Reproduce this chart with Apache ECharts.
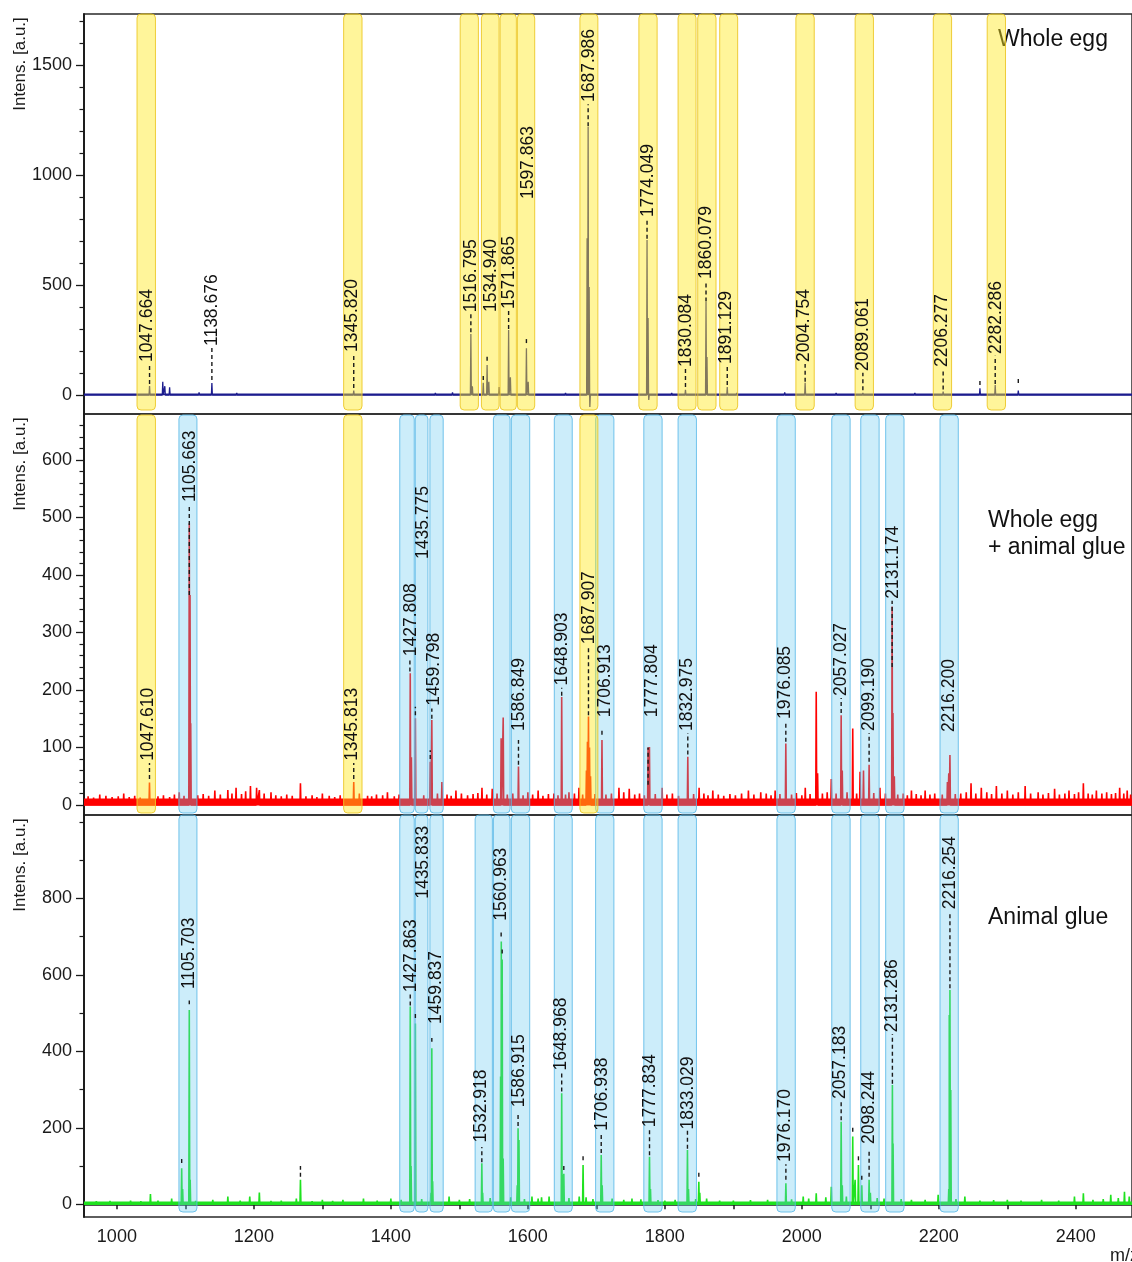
<!DOCTYPE html>
<html><head><meta charset="utf-8">
<script src="https://cdn.jsdelivr.net/npm/echarts@6/dist/echarts.min.js"></script>
<style>html,body{margin:0;padding:0;background:#fff}#c{width:1132px;height:1262px}</style>
</head><body><div id="c"></div><script>
// ---------- axes ----------
const X_MIN = 952, X_MAX = 2482;
const X_TICKS = [1000,1100,1200,1300,1400,1500,1600,1700,1800,1900,2000,2100,2200,2300,2400];
const X_LABELS = [1000,1200,1400,1600,1800,2000,2200,2400];
const Y1_RANGE = [-86.4, 1731.8], Y1_LABELS = [0,500,1000,1500], Y1_MINOR = [100,200,300,400,600,700,800,900,1100,1200,1300,1400,1600,1700];
const Y2_RANGE = [-17.4, 680], Y2_LABELS = [0,100,200,300,400,500,600], Y2_MINOR = [20,40,60,80,120,140,160,180,220,240,260,280,320,340,360,380,420,440,460,480,520,540,560,580,620,640,660];
const Y3_RANGE = [-33.2, 1017.8], Y3_LABELS = [0,200,400,600,800], Y3_MINOR = [100,300,500,700,900,1000];

// ---------- panel 1 : whole egg ----------
const EGG_PEAKS = [[1047.7,41],[1067,60],[1070,40],[1077,35],[1138.7,54],[1345.8,20],[1516.8,277],[1519,40],[1534.9,55],[1540.5,136],[1543,60],[1558,36],
 [1571.9,295],[1574.5,80],[1597.9,213],[1600.5,60],[1686.5,713],[1688,1218],[1689.5,491],[1690.5,-55],[1774.0,705],[1775.5,350],[1776.5,-23],
 [1830.1,23],[1860.1,423],[1861.5,173],[1891.1,36],[2004.8,55],[2089.1,10],[2206.3,15],[2260,30],[2282.3,45],[2316,20]];
const EGG_NOISE = [[1002,8],[1025,7],[1120,12],[1175,10],[1215,8],[1260,7],[1300,6],[1420,8],[1465,10],[1490,12],[1620,8],[1655,10],[1730,8],[1810,10],
 [1905,10],[1935,8],[1975,12],[2030,8],[2050,10],[2120,8],[2165,10],[2240,8],[2340,8],[2395,6],[2440,8]];
const EGG_BANDS = [[1029.4,1056.3],[1331.1,1357.9],[1501.2,1527.8],[1532.2,1558.0],[1559.5,1583.2],[1584.7,1610.0],[1676.0,1702.2],[1762.1,1788.7],
 [1819.3,1845.5],[1848.0,1874.7],[1880.1,1906.3],[1991.3,2018.1],[2077.8,2104.5],[2191.9,2218.6],[2270.6,2297.3]];
const EGG_MARKS = [[1047.7,50,140],[1138.7,68,214],[1345.8,32,187],[1516.8,285,368],[1534.9,68,91],[1540.5,156,182],[1571.9,300,382],[1597.9,236,264],
 [1688,1222,1322],[1774.0,710,800],[1830.1,36,119],[1860.1,425,519],[1891.1,45,132],[2004.8,60,141],[2089.1,22,101],[2206.3,25,119],[2260,45,77],[2282.3,50,178],[2316,55,82]];
const EGG_LABELS = [[1044,'1047.664',145],[1139,'1138.676',218],[1343.8,'1345.820',191],[1517,'1516.795',372],[1546,'1534.940',373],[1572,'1571.865',386],
 [1600.3,'1597.863',886],[1690,'1687.986',1327],[1776,'1774.049',804],[1831,'1830.084',123],[1859.7,'1860.079',523],[1890,'1891.129',136],
 [2003.6,'2004.754',145],[2090,'2089.061',105],[2204.8,'2206.277',123],[2283.7,'2282.286',182]];

// ---------- panel 2 : whole egg + animal glue ----------
const MIX_PEAKS = [[1047.6,39],[1105.7,490],[1106.8,365],[1107.8,142],[1268,38],[1345.8,40],[1428.3,229],[1430,83],[1435.8,151],[1457.5,75],[1459.8,148],
 [1561,116],[1564,152],[1586.3,67],[1649.4,188],[1685.5,60],[1687,110],[1688.5,154],[1690,100],[1691.5,50],[1708.2,113],[1775.5,100],[1777.5,101],
 [1833.5,84],[1976.6,107],[2021,197],[2023,55],[2057.4,156],[2059,60],[2074.3,133],[2085,58],[2090,60],[2098.2,70],[2131.8,345],[2133,160],[2135,50],
 [2212.5,40],[2214.5,55],[2216.2,87]];
const MIX_NOISE = [[975,18],[1010,20],[1091,22],[1143,25],[1162,26],[1174,30],[1195,33],[1204,30],[1208,26],[1225,22],[1300,20],[1354,20],[1379,18],
 [1395,22],[1474.5,40],[1495,25],[1533,30],[1548,28],[1600,22],[1615,25],[1660,22],[1674.6,30],[1733,30],[1748,28],[1796,30],[1850,30],[1870,25],
 [1922,25],[1940,22],[1961,25],[2005,30],[2043,45],[2114,30],[2160,25],[2180,25],[2247,38],[2262,30],[2284,33],[2300,25],[2326,33],[2345,22],
 [2369,28],[2390,25],[2411,38],[2430,25],[2445,22],[2464,30],[2475,25],
 [958,15],[966,13],[984,16],[993,14],[1002,15],[1018,14],[1026,16],[1034,13],[1060,15],[1068,17],[1077,14],[1084,18],[1098,16],[1118,17],[1126,19],
 [1134,16],[1151,18],[1168,20],[1182,19],[1188,24],[1215,20],[1232,17],[1240,15],[1248,18],[1256,16],[1276,15],[1285,17],[1292,14],[1310,16],
 [1318,14],[1326,17],[1366,16],[1372,15],[1388,17],[1405,15],[1412,18],[1448,17],[1468,20],[1482,18],[1488,16],[1503,20],[1512,17],[1520,19],
 [1527,21],[1540,18],[1555,20],[1570,18],[1578,20],[1593,17],[1607,18],[1622,16],[1630,19],[1638,20],[1644,17],[1655,18],[1668,20],[1680,18],
 [1698,19],[1714,18],[1722,20],[1740,22],[1756,18],[1763,20],[1770,17],[1786,19],[1803,18],[1811,20],[1820,16],[1842,19],[1857,20],[1863,17],
 [1878,18],[1886,16],[1895,19],[1903,17],[1912,20],[1930,18],[1948,20],[1955,17],[1968,19],[1985,18],[1992,21],[2000,17],[2012,19],[2030,20],
 [2037,22],[2050,20],[2066,22],[2080,20],[2105,21],[2122,20],[2140,18],[2148,20],[2154,17],[2167,19],[2174,17],[2187,18],[2194,20],[2205,18],
 [2224,19],[2232,20],[2240,22],[2254,20],[2270,22],[2277,19],[2292,20],[2308,18],[2316,22],[2334,20],[2352,18],[2360,21],[2376,18],[2384,20],
 [2398,19],[2404,22],[2418,20],[2424,18],[2438,20],[2452,19],[2458,21],[2470,20],[2480,18]];
const MIX_YELLOW = [[1029.4,1056.3],[1331.1,1357.9],[1676.0,1702.2]];
const MIX_BLUE = [[1090.6,1116.9],[1413.0,1434.1],[1435.6,1454.1],[1457.0,1476.4],[1549.7,1574.0],[1575.9,1602.7],[1638.6,1664.8],[1698.9,1725.6],
 [1769.3,1796.0],[1819.3,1846.1],[1963.6,1990.4],[2043.7,2070.5],[2086.0,2112.8],[2122.4,2149.2],[2201.7,2228.4]];
const MIX_MARKS = [[1047.6,45,73],[1105.7,365,522],[1345.8,45,73],[1427.8,232,255],[1435.8,156,171],[1457.5,80,95],[1459.8,150,168],[1586.3,70,113],
 [1649.4,190,204],[1688.5,156,276],[1708.2,122,131],[1775.5,35,100],[1833.5,88,125],[1976.6,110,146],[2057.4,160,186],[2098.2,75,125],[2131.8,240,355]];
const MIX_LABELS = [[1045,'1047.610',75],[1107,'1105.663',525],[1343.8,'1345.813',75],[1429,'1427.808',257],[1447,'1435.775',426],[1463,'1459.798',171],
 [1587,'1586.849',127],[1650,'1648.903',206],[1689,'1687.907',278],[1713.5,'1706.913',151],[1781,'1777.804',151],[1833,'1832.975',127],
 [1975.8,'1976.085',148],[2057,'2057.027',188],[2098,'2099.190',127],[2133.6,'2131.174',357],[2214.8,'2216.200',125]];

// ---------- panel 3 : animal glue ----------
const GLUE_PEAKS = [[1049,27],[1094.6,94],[1096,40],[1105.7,508],[1107,64],[1162,20],[1194,20],[1208,31],[1262,15],[1268,64],[1300,12],[1400,15],
 [1428.3,517],[1429.5,100],[1435.8,473],[1458.5,30],[1459.8,408],[1461,60],[1532.8,107],[1534,30],[1560.2,334],[1561.2,687],[1562.5,640],[1564,120],
 [1584.5,50],[1585.7,199],[1587,168],[1649.4,290],[1650.5,77],[1652.5,80],[1680.6,103],[1707.1,129],[1708.5,50],[1777.6,124],[1779,40],[1833.0,142],
 [1834.5,40],[1849.6,59],[1851,30],[1976.7,55],[2057.4,216],[2059,50],[2074.3,177],[2077.8,64],[2082.6,103],[2087.5,50],[2098.2,64],[2100,30],
 [2132.2,312],[2133.2,159],[2214.5,40],[2215.2,495],[2216.2,560],[2217.4,299]];
const GLUE_NOISE = [[970,8],[1020,10],[1080,15],[1140,12],[1240,10],[1330,12],[1360,15],[1485,20],[1606,20],[1620,18],[1631,20],[1675,20],[1685,18],
 [1723,15],[1752,15],[1800,10],[1861,15],[1900,10],[1950,12],[2002,20],[2021,29],[2043,46],[2120,15],[2160,12],[2199,25],[2238,20],[2300,12],
 [2350,12],[2398,20],[2411,29],[2451,25],[2471,33],[2478,20],
 [990,9],[1035,8],[1060,10],[1115,9],[1180,10],[1225,9],[1285,8],[1315,9],[1380,10],[1415,12],[1445,14],[1500,12],[1515,14],[1545,16],[1575,18],
 [1595,14],[1615,15],[1660,16],[1695,14],[1740,12],[1765,13],[1790,11],[1815,12],[1845,14],[1880,10],[1925,11],[1985,13],[2010,15],[2035,18],
 [2065,20],[2110,16],[2145,14],[2180,12],[2225,14],[2260,10],[2280,11],[2320,10],[2375,10],[2425,12],[2440,14],[2462,16]];
const GLUE_BLUE = [[1090.6,1116.9],[1413.0,1434.1],[1435.6,1454.1],[1457.0,1476.4],[1523.0,1548.2],[1549.7,1574.0],[1575.9,1602.7],[1638.6,1664.8],
 [1698.9,1725.6],[1769.3,1796.0],[1819.3,1846.1],[1963.6,1990.4],[2043.7,2070.5],[2086.0,2112.8],[2122.4,2149.2],[2201.7,2228.4]];
const GLUE_MARKS = [[1094.6,108,123],[1105.7,523,533],[1268,72,100],[1428.3,520,550],[1435.8,487,500],[1459.8,425,435],[1532.8,110,150],[1561,700,713],
 [1562.5,656,673],[1585.7,205,235],[1649.4,295,343],[1652.5,90,108],[1680.6,115,131],[1707.1,134,186],[1777.6,128,195],[1833.0,145,193],[1849.6,72,88],
 [1976.7,64,105],[2057.4,220,268],[2074.3,190,205],[2082.6,115,131],[2087.5,64,77],[2098.2,72,145],[2132.2,315,445],[2216.2,565,765]];
const GLUE_LABELS = [[1106.2,'1105.703',560],[1429,'1427.863',552],[1447,'1435.833',796],[1465.7,'1459.837',469],[1532.5,'1532.918',159],
 [1561.6,'1560.963',739],[1588,'1586.915',251],[1649,'1648.968',347],[1708.6,'1706.938',190],[1779,'1777.834',199],[1833.4,'1833.029',193],
 [1975.8,'1976.170',108],[2056,'2057.183',273],[2098,'2098.244',155],[2132.2,'2131.286',447],[2216.7,'2216.254',769]];

const PANEL_TITLES = ['Whole egg', 'Whole egg\n+ animal glue', 'Animal glue'];

// ---------- build ----------
const FONT = '"Liberation Sans", Arial, sans-serif';
const YELLOW_FILL = 'rgba(255,232,30,0.45)', YELLOW_STROKE = 'rgba(236,200,40,0.9)';
const BLUE_FILL = 'rgba(100,200,240,0.33)', BLUE_STROKE = 'rgba(90,185,232,0.85)';

function stick(peaks, noise){
  const pts = peaks.concat(noise).sort((a,b)=>a[0]-b[0]);
  const out = [[X_MIN,0]];
  pts.forEach(p=>{ out.push([p[0]-0.7,0],[p[0],p[1]],[p[0]+0.7,0]); });
  out.push([X_MAX,0]);
  return out;
}
function lineSeries(gi, data, color, width, z){
  return {type:'line', xAxisIndex:gi, yAxisIndex:gi*2, data, showSymbol:false, symbol:'none', silent:true,
    lineStyle:{color, width}, z, animation:false, clip:true};
}
function bandSeries(gi, bands, fill, stroke, range, gapTop, gapBot){
  return {type:'custom', xAxisIndex:gi, yAxisIndex:gi*2, z:3, silent:true, clip:false, animation:false,
    data: bands.map(b=>[b[0], b[1]]),
    renderItem(params, api){
      const a = api.coord([api.value(0), range[1]]);
      const b = api.coord([api.value(1), range[0]]);
      return {type:'rect', shape:{x:a[0], y:a[1]+gapTop, width:b[0]-a[0], height:(b[1]-a[1])-gapTop-gapBot, r:4},
        style:{fill, stroke, lineWidth:1}};
    }};
}
function markSeries(gi, marks){
  return {type:'custom', xAxisIndex:gi, yAxisIndex:gi*2, z:5, silent:true, clip:false, animation:false,
    data: marks.map(m=>[m[0], m[1], m[2]]),
    renderItem(params, api){
      const a = api.coord([api.value(0), api.value(1)]);
      const b = api.coord([api.value(0), api.value(2)]);
      return {type:'line', shape:{x1:a[0], y1:a[1], x2:b[0], y2:b[1]}, style:{stroke:'#1a1a1a', lineWidth:1.4, lineDash:[4,3]}};
    }};
}
function labelSeries(gi, labels){
  return {type:'custom', xAxisIndex:gi, yAxisIndex:gi*2, z:6, silent:true, clip:false, animation:false,
    data: labels.map(l=>[l[0], l[2]]),
    renderItem(params, api){
      const p = api.coord([api.value(0), api.value(1)]);
      return {type:'text', x:p[0], y:p[1]-1, rotation:Math.PI/2,
        style:{text: labels[params.dataIndex][1], font:'17.5px '+FONT, fill:'#111', align:'left', verticalAlign:'middle'}};
    }};
}

const grids = [
  {left:84, right:-2, top:14, height:400},
  {left:84, right:-2, top:414, height:401},
  {left:84, right:-2, top:815, height:402}
].map(g=>Object.assign(g,{show:true, borderColor:'#2a2a2a', borderWidth:1.5, backgroundColor:'transparent'}));

const plain = v => String(v);
const xAxes = [0,1,2].map(i=>({
  type:'value', gridIndex:i, min:X_MIN, max:X_MAX, splitLine:{show:false},
  axisLine:{show:i===2, lineStyle:{color:'#1a1a1a', width:1.5}},
  axisTick:{show:i===2, length:5, customValues:X_TICKS, lineStyle:{color:'#1a1a1a', width:1.5}},
  axisLabel:{show:i===2, customValues:X_LABELS, formatter:plain, margin:11, fontSize:18, fontFamily:FONT, color:'#1a1a1a'}
}));

const ranges = [Y1_RANGE, Y2_RANGE, Y3_RANGE], labs = [Y1_LABELS, Y2_LABELS, Y3_LABELS], minors = [Y1_MINOR, Y2_MINOR, Y3_MINOR];
const yAxes = [];
[0,1,2].forEach(i=>{
  yAxes.push({type:'value', gridIndex:i, position:'left', min:ranges[i][0], max:ranges[i][1], splitLine:{show:false},
    axisLine:{show:true, lineStyle:{color:'#1a1a1a', width:1.5}},
    axisTick:{show:true, length:8, customValues:labs[i], lineStyle:{color:'#1a1a1a', width:1.3}},
    axisLabel:{show:true, customValues:labs[i], formatter:plain, margin:12, fontSize:18, fontFamily:FONT, color:'#1a1a1a'}});
  yAxes.push({type:'value', gridIndex:i, position:'left', offset:0, min:ranges[i][0], max:ranges[i][1], splitLine:{show:false},
    axisLine:{show:true, lineStyle:{color:'#1a1a1a', width:1.5}},
    axisTick:{show:true, length:4.5, customValues:minors[i], lineStyle:{color:'#1a1a1a', width:1.2}},
    axisLabel:{show:false}});
});

const series = [
  lineSeries(0, [[X_MIN,3],[X_MAX,3]], '#1c1c8e', 1.6, 1),
  lineSeries(0, stick(EGG_PEAKS, EGG_NOISE), '#1c1c8e', 1.3, 2),
  lineSeries(1, [[X_MIN,5],[X_MAX,5]], '#ff0000', 7, 1),
  lineSeries(1, stick(MIX_PEAKS, MIX_NOISE), '#ff0000', 1.6, 2),
  lineSeries(2, [[X_MIN,2.6],[X_MAX,2.6]], '#1fe21f', 3.5, 1),
  lineSeries(2, stick(GLUE_PEAKS, GLUE_NOISE), '#1fe21f', 1.6, 2),
  bandSeries(0, EGG_BANDS, YELLOW_FILL, YELLOW_STROKE, Y1_RANGE, 0, 4),
  bandSeries(1, MIX_BLUE, BLUE_FILL, BLUE_STROKE, Y2_RANGE, 1, 2),
  bandSeries(1, MIX_YELLOW, YELLOW_FILL, YELLOW_STROKE, Y2_RANGE, 1, 2),
  bandSeries(2, GLUE_BLUE, BLUE_FILL, BLUE_STROKE, Y3_RANGE, 0, 5),
  markSeries(0, EGG_MARKS), markSeries(1, MIX_MARKS), markSeries(2, GLUE_MARKS),
  labelSeries(0, EGG_LABELS), labelSeries(1, MIX_LABELS), labelSeries(2, GLUE_LABELS)
];

const graphic = [
  {type:'text', left:998, top:28, style:{text:PANEL_TITLES[0], font:'23px '+FONT, fill:'#111'}},
  {type:'text', left:988, top:507, style:{text:PANEL_TITLES[1], font:'23px '+FONT, fill:'#111', lineHeight:27}},
  {type:'text', left:988, top:906, style:{text:PANEL_TITLES[2], font:'23px '+FONT, fill:'#111'}},
  {type:'text', left:1110, top:1247, style:{text:'m/z', font:'18px '+FONT, fill:'#1a1a1a'}}
];
[64, 464, 865].forEach(cy=>{
  graphic.push({type:'text', x:20, y:cy, rotation:Math.PI/2,
    style:{text:'Intens. [a.u.]', font:'17px '+FONT, fill:'#1a1a1a', align:'center', verticalAlign:'middle'}});
});

const chart = echarts.init(document.getElementById('c'), null, {renderer:'canvas'});
chart.setOption({animation:false, grid:grids, xAxis:xAxes, yAxis:yAxes, series, graphic});
</script></body></html>
